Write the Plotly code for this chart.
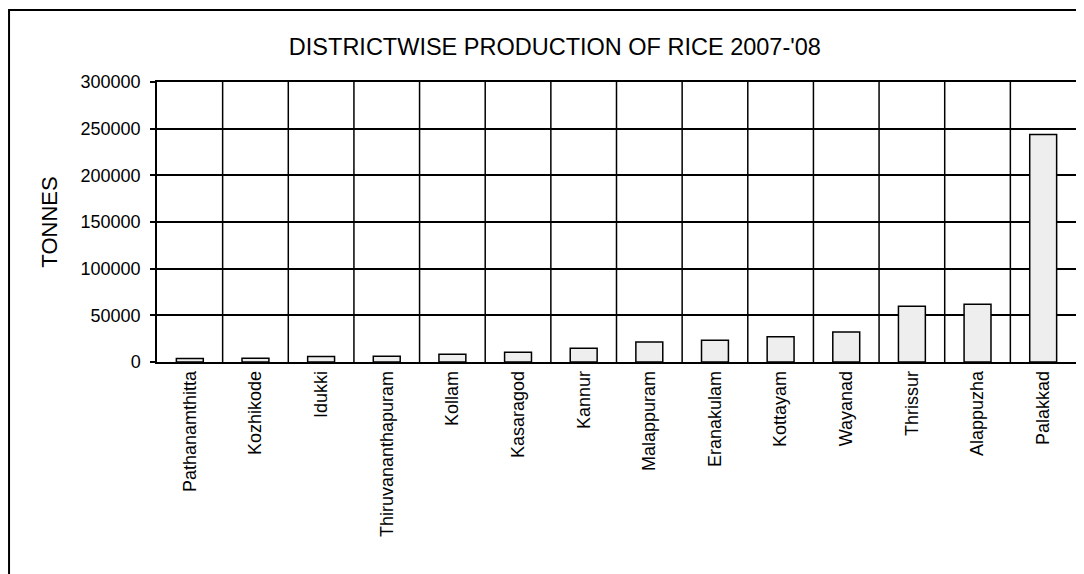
import plotly.graph_objects as go

# Districtwise rice production 2007-'08 (tonnes)
districts = [
    "Pathanamthitta", "Kozhikode", "Idukki", "Thiruvananthapuram", "Kollam",
    "Kasaragod", "Kannur", "Malappuram", "Eranakulam", "Kottayam",
    "Wayanad", "Thrissur", "Alappuzha", "Palakkad",
]
production = [
    3800, 3900, 6000, 6100, 8200,
    10400, 14700, 21400, 23200, 27100,
    32100, 59600, 61800, 243800,
]
y_ticks = [0, 50000, 100000, 150000, 200000, 250000, 300000]

fig = go.Figure()

fig.add_trace(
    go.Bar(
        x=districts,
        y=production,
        marker=dict(color="#eeeeee", line=dict(color="black", width=1.5)),
        width=0.41,
        showlegend=False,
    )
)

# Rahmen um das ganze Diagramm
fig.add_shape(
    type="rect", xref="paper", yref="paper",
    x0=-0.161, x1=1.05, y0=-0.9, y1=1.257,
    line=dict(color="black", width=2), fillcolor="rgba(0,0,0,0)",
    layer="below",
)

# vertical grid between categories
for i in range(1, len(districts)):
    fig.add_vline(x=i - 0.5, line=dict(color="black", width=1.5), layer="below")

fig.update_layout(
    width=1084,
    height=574,
    margin=dict(l=149, r=16, t=74, b=220),
    plot_bgcolor="white",
    paper_bgcolor="white",
    font=dict(family="Liberation Sans, Arial", color="black", size=18),
    bargap=0.59,
    title=dict(
        text="DISTRICTWISE PRODUCTION OF RICE 2007-'08",
        x=0.5045, xanchor="center", y=0.932, yanchor="middle",
        font=dict(size=23.5, color="black"),
    ),
    xaxis=dict(
        showgrid=False,
        showline=True, linecolor="black", linewidth=1.5, mirror=True,
        tickangle=-90,
        ticks="",
        automargin=False,
        range=[-0.5, len(districts) - 0.5],
    ),
    yaxis=dict(
        range=[0, 300000],
        tickvals=y_ticks,
        ticktext=[str(v) for v in y_ticks],
        showgrid=True, gridcolor="black", gridwidth=1.5,
        showline=True, linecolor="black", linewidth=1.5, mirror=True,
        ticks="outside", ticklen=5, tickwidth=1.5, tickcolor="black",
        ticklabelstandoff=6,
        zeroline=False,
        automargin=False,
        title=dict(text="TONNES", standoff=17, font=dict(size=22)),
    ),
)

# tick marks at category boundaries below the axis
fig.add_trace(
    go.Scatter(
        x=[i - 0.5 for i in range(len(districts) + 1)],
        y=[0] * (len(districts) + 1),
        mode="markers",
        marker=dict(symbol="line-ns", size=12, line=dict(color="black", width=1.5)),
        hoverinfo="skip", showlegend=False, cliponaxis=False,
    )
)

fig.write_html("out.html")
